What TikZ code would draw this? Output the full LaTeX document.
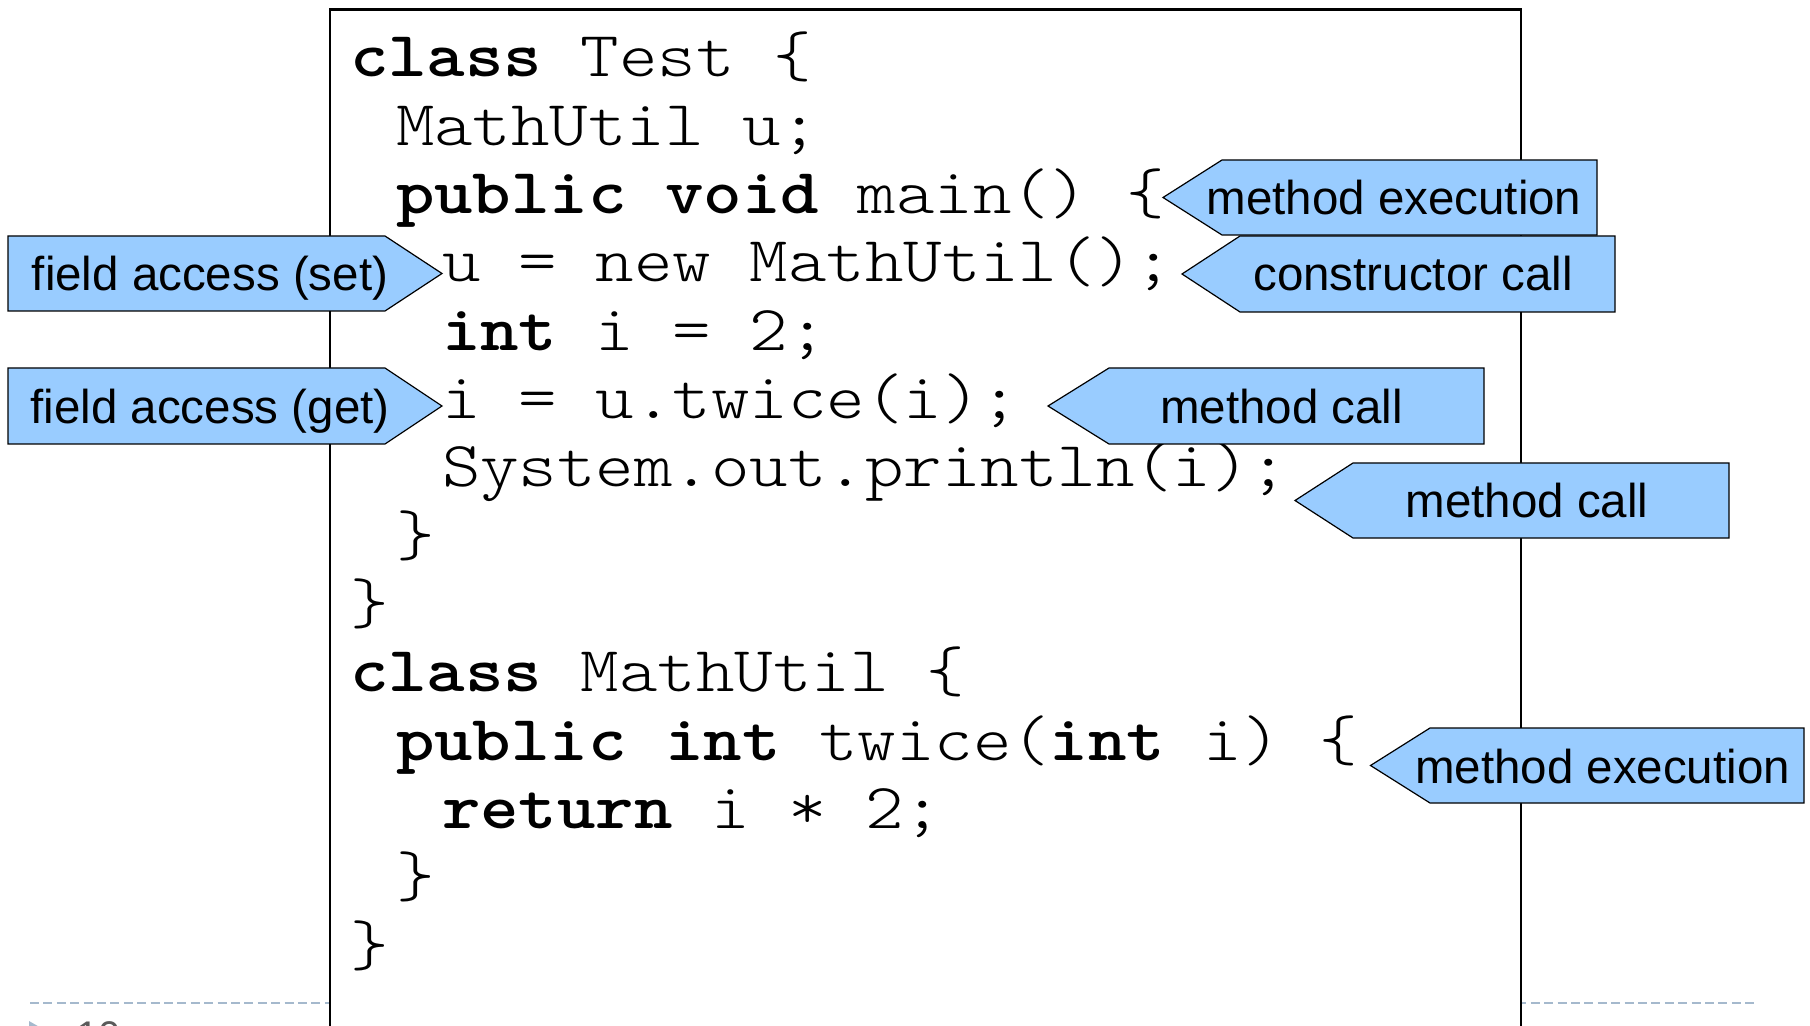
\documentclass[tikz,border=0pt]{standalone}
\usepackage{fontspec}
\newfontfamily\codefont{lmmonolt10-regular.otf}[FakeStretch=1.1428,BoldFont=lmmonolt10-bold.otf]
\newfontfamily\labelfont{Liberation Sans}
\definecolor{calloutblue}{RGB}{153,204,255}
\definecolor{dashblue}{RGB}{165,185,205}
\definecolor{pagegray}{RGB}{90,90,90}
\tikzset{
  codeline/.style={anchor=base west, inner sep=0pt, outer sep=0pt,
    font=\codefont\fontsize{32.06}{34}\selectfont\frenchspacing},
  calloutbox/.style={draw=black, line width=0.6pt, fill=calloutblue, line join=miter},
  callouttext/.style={anchor=base, inner sep=0pt, outer sep=0pt,
    font=\labelfont\fontsize{23.75}{28}\selectfont},
  codebox/.style={draw=black, line width=1.4pt, fill=white},
  pagerule/.style={draw=dashblue, line width=1pt, dash pattern=on 4.5pt off 2.2pt},
}
\begin{document}
\begin{tikzpicture}[x=0.5pt,y=-0.5pt]
\useasboundingbox (0,0) rectangle (1810,1026);
\clip (0,0) rectangle (1810,1026);
\fill[white] (0,0) rectangle (1810,1026);
% slide footer
\draw[pagerule] (30,1002.7) -- (1758,1002.7);
\fill[dashblue] (29,1021) -- (29,1045) -- (50,1033) -- cycle;
\node[anchor=base west, inner sep=0pt, text=pagegray,
  font=\labelfont\fontsize{20}{24}\selectfont] (pagenum) at (76,1049) {10};
% code frame
\draw[codebox] (330,9.5) rectangle (1521,1080);
% code lines (indent step 46, line pitch 68.33)
\node[codeline] (c0)  at ({350+0*46},{77+0*68.33})  {\textbf{class} Test \{};
\node[codeline] (c1)  at ({350+1*46},{77+1*68.33})  {MathUtil u;};
\node[codeline] (c2)  at ({350+1*46},{77+2*68.33})  {\textbf{public void} main() \{};
\node[codeline] (c3)  at ({350+2*46},{77+3*68.33})  {u = new MathUtil();};
\node[codeline] (c4)  at ({350+2*46},{77+4*68.33})  {\textbf{int} i = 2;};
\node[codeline] (c5)  at ({350+2*46},{77+5*68.33})  {i = u.twice(i);};
\node[codeline] (c6)  at ({350+2*46},{77+6*68.33})  {System.out.println(i);};
\node[codeline] (c7)  at ({350+1*46},{77+7*68.33})  {\}};
\node[codeline] (c8)  at ({350+0*46},{77+8*68.33})  {\}};
\node[codeline] (c9)  at ({350+0*46},{77+9*68.33})  {\textbf{class} MathUtil \{};
\node[codeline] (c10) at ({350+1*46},{77+10*68.33}) {\textbf{public int} twice(\textbf{int} i) \{};
\node[codeline] (c11) at ({350+2*46},{77+11*68.33}) {\textbf{return} i * 2;};
\node[codeline] (c12) at ({350+1*46},{77+12*68.33}) {\}};
\node[codeline] (c13) at ({350+0*46},{77+13*68.33}) {\}};
% callouts on the left (pointing right)
\draw[calloutbox] (8,236) -- (385,236) -- (442,273.5) -- (385,311) -- (8,311) -- cycle;
\node[callouttext] (setlbl) at (210,291) {field access (set)};
\draw[calloutbox] (8,368) -- (385,368) -- (442,406) -- (385,444) -- (8,444) -- cycle;
\node[callouttext] (getlbl) at (210,423.5) {field access (get)};
% callouts on the right (pointing left)
\draw[calloutbox] (1163,197.5) -- (1222,160) -- (1597,160) -- (1597,235) -- (1222,235) -- cycle;
\node[callouttext] (exec1lbl) at (1394,215) {method execution};
\draw[calloutbox] (1182,274) -- (1240,236) -- (1615,236) -- (1615,312) -- (1240,312) -- cycle;
\node[callouttext] (ctorlbl) at (1413,291) {constructor call};
\draw[calloutbox] (1048,406) -- (1109,368) -- (1484,368) -- (1484,444) -- (1109,444) -- cycle;
\node[callouttext] (call1lbl) at (1281.5,423.5) {method call};
\draw[calloutbox] (1295,500.5) -- (1353,463) -- (1729,463) -- (1729,538) -- (1353,538) -- cycle;
\node[callouttext] (call2lbl) at (1527,517.5) {method call};
\draw[calloutbox] (1370.5,765.5) -- (1430,728) -- (1804,728) -- (1804,803) -- (1430,803) -- cycle;
\node[callouttext] (exec2lbl) at (1602.5,783) {method execution};
\end{tikzpicture}
\end{document}
